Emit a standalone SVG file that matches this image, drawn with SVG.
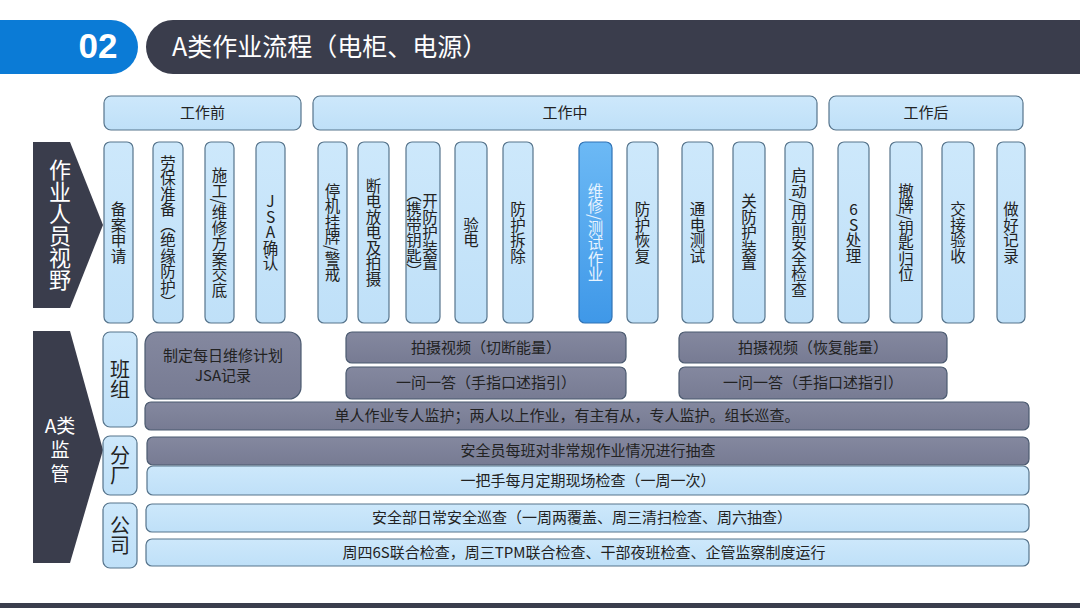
<svg xmlns="http://www.w3.org/2000/svg" width="1080" height="608" viewBox="0 0 1080 608">
<defs>
<linearGradient id="gBlue" x1="0" y1="0" x2="0" y2="1">
<stop offset="0" stop-color="#cde8fb"/><stop offset="1" stop-color="#bfe0f8"/>
</linearGradient>
<linearGradient id="gGray" x1="0" y1="0" x2="0" y2="1">
<stop offset="0" stop-color="#84889f"/><stop offset="1" stop-color="#777b93"/>
</linearGradient>
<linearGradient id="gHi" x1="0" y1="0" x2="0" y2="1">
<stop offset="0" stop-color="#6cb9f5"/><stop offset="1" stop-color="#3f98e8"/>
</linearGradient>
</defs>
<style>
text{font-family:"Noto Sans CJK SC","Microsoft YaHei","Noto Sans",sans-serif;}
.lb{fill:url(#gBlue);stroke:#56748c;stroke-width:1.2;}
.gr{fill:url(#gGray);stroke:#4b5a70;stroke-width:1.2;}
.hi{fill:url(#gHi);stroke:#2f72b5;stroke-width:1.2;}
.dk{fill:#3a3d4c;}
.t{font-size:15px;fill:#222;text-anchor:middle;}
.v{font-size:15.5px;fill:#222;text-anchor:middle;writing-mode:vertical-rl;text-orientation:mixed;}
.vu{text-orientation:upright;}
.vw{fill:#e8f4ff;}
.big{font-size:20px;fill:#222;text-anchor:middle;writing-mode:vertical-rl;}
.wt{fill:#ffffff;text-anchor:middle;}
</style>

<g id="header">
<path d="M0 20 H111 A27 27 0 0 1 111 74 H0 Z" fill="#0b7bd6"/>
<text x="98" y="58" class="wt" style="font-family:'Liberation Sans','Noto Sans',sans-serif;font-size:35px;font-weight:bold;">02</text>
<path d="M173 20 H1080 V74 H173 A27 27 0 0 1 173 20 Z" fill="#3a3d4c"/>
<text x="172" y="56" style="font-size:25px;fill:#ffffff;">A类作业流程（电柜、电源）</text>
</g>

<g id="phase-before"><rect class="lb" x="104" y="96" width="197" height="34" rx="7"/><text class="t" x="202.5" y="118">工作前</text></g>
<g id="phase-during"><rect class="lb" x="313" y="96" width="504" height="34" rx="7"/><text class="t" x="565" y="118">工作中</text></g>
<g id="phase-after"><rect class="lb" x="829" y="96" width="194" height="34" rx="7"/><text class="t" x="926" y="118">工作后</text></g>

<g id="label-worker-view">
<path class="dk" d="M33 142 H70 L103 225 L70 308 H33 Z"/>
<text class="wt" x="60" y="225" style="font-size:22px;writing-mode:vertical-rl;">作业人员视野</text>
</g>

<g id="step-01"><rect class="lb" x="104" y="142" width="29" height="181" rx="6"/><text class="v" x="118.5" y="232.5">备案申请</text></g>
<g id="step-02"><rect class="lb" x="153" y="142" width="30" height="181" rx="6"/><text class="v" x="168" y="232.5">劳保准备（绝缘防护）</text></g>
<g id="step-03"><rect class="lb" x="205" y="142" width="29" height="181" rx="6"/><text class="v" x="219.5" y="232.5">施工/维修方案交底</text></g>
<g id="step-04"><rect class="lb" x="256" y="142" width="29" height="181" rx="6"/><text class="v vu" x="270.5" y="232.5">JSA确认</text></g>
<g id="step-05"><rect class="lb" x="318" y="142" width="29" height="181" rx="6"/><text class="v" x="332.5" y="232.5">停机挂牌/警戒</text></g>
<g id="step-06"><rect class="lb" x="358" y="142" width="31" height="181" rx="6"/><text class="v" x="373.5" y="232.5">断电放电及拍摄</text></g>
<g id="step-07"><rect class="lb" x="406" y="142" width="34" height="181" rx="6"/><text class="v" x="430" y="232.5">开防护装置</text><text class="v" x="414" y="232.5">（携带钥匙）</text></g>
<g id="step-08"><rect class="lb" x="455" y="142" width="32" height="181" rx="6"/><text class="v" x="471" y="232.5">验电</text></g>
<g id="step-09"><rect class="lb" x="503" y="142" width="30" height="181" rx="6"/><text class="v" x="518" y="232.5">防护拆除</text></g>
<g id="step-10"><rect class="hi" x="579" y="142" width="33" height="181" rx="6"/><text class="v vw" x="595.5" y="232.5">维修/测试作业</text></g>
<g id="step-11"><rect class="lb" x="627" y="142" width="31" height="181" rx="6"/><text class="v" x="642.5" y="232.5">防护恢复</text></g>
<g id="step-12"><rect class="lb" x="682" y="142" width="31" height="181" rx="6"/><text class="v" x="697.5" y="232.5">通电测试</text></g>
<g id="step-13"><rect class="lb" x="733" y="142" width="32" height="181" rx="6"/><text class="v" x="749" y="232.5">关防护装置</text></g>
<g id="step-14"><rect class="lb" x="785" y="142" width="28" height="181" rx="6"/><text class="v" x="799" y="232.5">启动/用前安全检查</text></g>
<g id="step-15"><rect class="lb" x="838" y="142" width="31" height="181" rx="6"/><text class="v vu" x="853.5" y="232.5">6S处理</text></g>
<g id="step-16"><rect class="lb" x="890" y="142" width="32" height="181" rx="6"/><text class="v" x="906" y="232.5">撤牌/钥匙归位</text></g>
<g id="step-17"><rect class="lb" x="942" y="142" width="32" height="181" rx="6"/><text class="v" x="958" y="232.5">交接验收</text></g>
<g id="step-18"><rect class="lb" x="997" y="142" width="28" height="181" rx="6"/><text class="v" x="1011" y="232.5">做好记录</text></g>

<g id="label-supervision">
<path class="dk" d="M33 331 H70 L103 450 L70 563 H33 Z"/>
<text class="wt" style="font-size:19px;"><tspan x="60" y="433">A类</tspan><tspan x="60" y="457">监</tspan><tspan x="60" y="481">管</tspan></text>
</g>

<g id="level-team"><rect class="lb" x="103" y="332" width="34" height="95" rx="7"/><text class="big" x="120" y="379.5">班组</text></g>
<g id="level-plant"><rect class="lb" x="103" y="436" width="34" height="59" rx="7"/><text class="big" x="120" y="465.5">分厂</text></g>
<g id="level-company"><rect class="lb" x="103" y="503" width="34" height="65" rx="7"/><text class="big" x="120" y="535.5">公司</text></g>

<g id="team-plan"><rect class="gr" x="145" y="332" width="156" height="67" rx="12"/><text class="t"><tspan x="223" y="361">制定每日维修计划</tspan><tspan x="223" y="381">JSA记录</tspan></text></g>
<g id="team-video-cut"><rect class="gr" x="346" y="332" width="280" height="31" rx="6"/><text class="t" x="486" y="353">拍摄视频（切断能量）</text></g>
<g id="team-qa-1"><rect class="gr" x="346" y="367" width="280" height="32" rx="6"/><text class="t" x="486" y="388">一问一答（手指口述指引）</text></g>
<g id="team-video-restore"><rect class="gr" x="679" y="332" width="268" height="31" rx="6"/><text class="t" x="813" y="353">拍摄视频（恢复能量）</text></g>
<g id="team-qa-2"><rect class="gr" x="679" y="367" width="268" height="32" rx="6"/><text class="t" x="813" y="388">一问一答（手指口述指引）</text></g>
<g id="team-monitor"><rect class="gr" x="145" y="402" width="884" height="28" rx="6"/><text class="t" x="567" y="421">单人作业专人监护；两人以上作业，有主有从，专人监护。组长巡查。</text></g>

<g id="plant-safety"><rect class="gr" x="147" y="437" width="882" height="28" rx="6"/><text class="t" x="588" y="456">安全员每班对非常规作业情况进行抽查</text></g>
<g id="plant-leader"><rect class="lb" x="147" y="466" width="882" height="29" rx="6"/><text class="t" x="588" y="486">一把手每月定期现场检查（一周一次）</text></g>

<g id="company-patrol"><rect class="lb" x="146" y="504" width="883" height="28" rx="6"/><text class="t" x="582" y="523">安全部日常安全巡查（一周两覆盖、周三清扫检查、周六抽查）</text></g>
<g id="company-joint"><rect class="lb" x="146" y="539" width="883" height="27" rx="6"/><text class="t" x="584" y="558">周四6S联合检查，周三TPM联合检查、干部夜班检查、企管监察制度运行</text></g>

<rect id="footer-bar" x="0" y="603" width="1080" height="5" fill="#3a3d4c"/>
</svg>
